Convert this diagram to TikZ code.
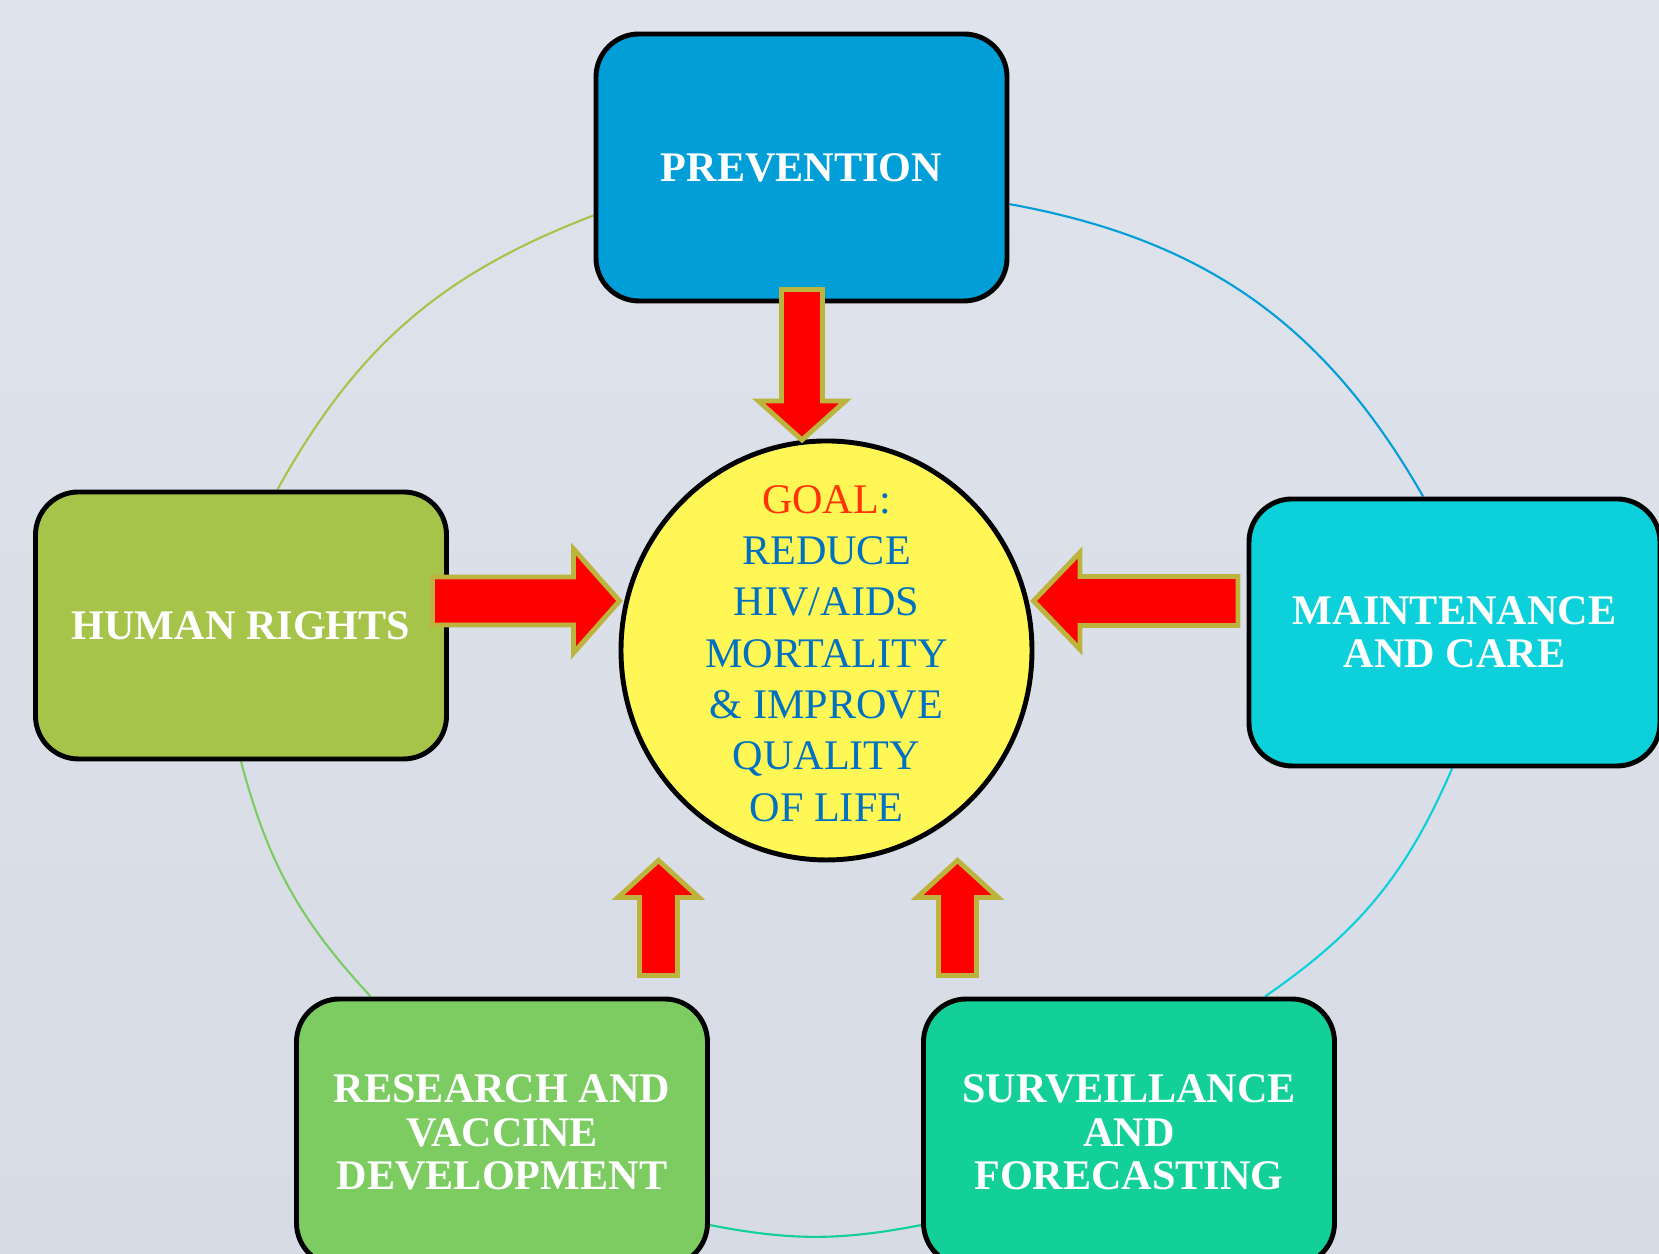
\documentclass[tikz,border=0pt]{standalone}
\usepackage{fontspec}
\setmainfont{Liberation Serif}
\usetikzlibrary{shapes.geometric,backgrounds}

\definecolor{bgtop}{RGB}{223,227,236}
\definecolor{bgbot}{RGB}{214,219,229}
\definecolor{prevblue}{RGB}{2,158,216}
\definecolor{hrgreen}{RGB}{166,196,74}
\definecolor{maintcyan}{RGB}{12,208,218}
\definecolor{resgreen}{RGB}{124,204,98}
\definecolor{survteal}{RGB}{18,208,152}
\definecolor{goalyellow}{RGB}{255,247,85}
\definecolor{goalblue}{RGB}{0,112,192}
\definecolor{goalred}{RGB}{255,51,0}
\definecolor{arrowred}{RGB}{255,0,0}
\definecolor{arrowolive}{RGB}{188,180,60}

\tikzset{
    box/.style={draw=black, line width=1.4pt, rounded corners=0.43cm, minimum width=4.11cm, minimum height=2.67cm, inner sep=0pt, align=center, text=white, font=\bfseries\fontsize{12}{12.35}\selectfont},
    goal/.style={ellipse, draw=black, line width=1.4pt, fill=goalyellow, minimum width=4.11cm, minimum height=4.19cm, inner sep=0pt},
    goaltext/.style={align=center, text=goalblue, inner sep=0pt, font=\fontsize{12}{14.6}\selectfont},
    ring/.style={line width=0.6pt},
    blockarrow/.style={fill=arrowred, draw=arrowolive, line width=1.4pt}
}

\begin{document}
\begin{tikzpicture}
\useasboundingbox (0,0) rectangle (16.59,12.54);
\clip (0,0) rectangle (16.59,12.54);

% the five fields
\foreach \name/\x/\y/\col/\txt in {prev/8.015/10.865/prevblue/PREVENTION, hr/2.41/6.285/hrgreen/HUMAN RIGHTS, maint/14.545/6.215/maintcyan/{MAINTENANCE\\AND CARE}, research/5.02/1.215/resgreen/{RESEARCH AND\\VACCINE\\DEVELOPMENT}, surv/11.29/1.215/survteal/{SURVEILLANCE\\AND\\FORECASTING}}{
    \node[box, fill=\col] (\name) at (\x,\y) {\txt};
}

\node[goal] (goal) at (8.265,6.035) {};
\node[goaltext, yshift=-0.03cm] (goaltxt) at (goal.center) {\textcolor{goalred}{GOAL}:\\REDUCE\\HIV/AIDS\\MORTALITY\\\& IMPROVE\\QUALITY\\OF LIFE};

\begin{pgfonlayer}{background}
    \fill[top color=bgtop, bottom color=bgbot] (0,0) rectangle (16.59,12.54);
    % ring behind the fields
    \foreach \a/\b/\bnd/\col in {prev.193/hr.75/-20/hrgreen, prev.350/maint.103/25/prevblue, maint.269/surv.45/16/maintcyan, surv.204/research.336/11/survteal, research.134/hr.270/14/resgreen}{
        \draw[ring, draw=\col] (\a) to[bend left=\bnd] (\b);
    }
\end{pgfonlayer}

% block arrows towards the goal
\foreach \x/\y/\r/\len/\hl/\sw/\hw in {6.195/6.53/0/1.87/0.46/0.24/0.52, 10.335/6.53/180/2.045/0.465/0.245/0.485, 8.02/8.14/-90/1.505/0.39/0.205/0.435, 6.585/3.935/90/1.15/0.37/0.19/0.405, 9.575/3.935/90/1.15/0.37/0.19/0.405}{
    \filldraw[blockarrow, shift={(\x,\y)}, rotate=\r] (0,0) -- (-\hl,\hw) -- (-\hl,\sw) -- (-\len,\sw) -- (-\len,-\sw) -- (-\hl,-\sw) -- (-\hl,-\hw) -- cycle;
}

\end{tikzpicture}
\end{document}
